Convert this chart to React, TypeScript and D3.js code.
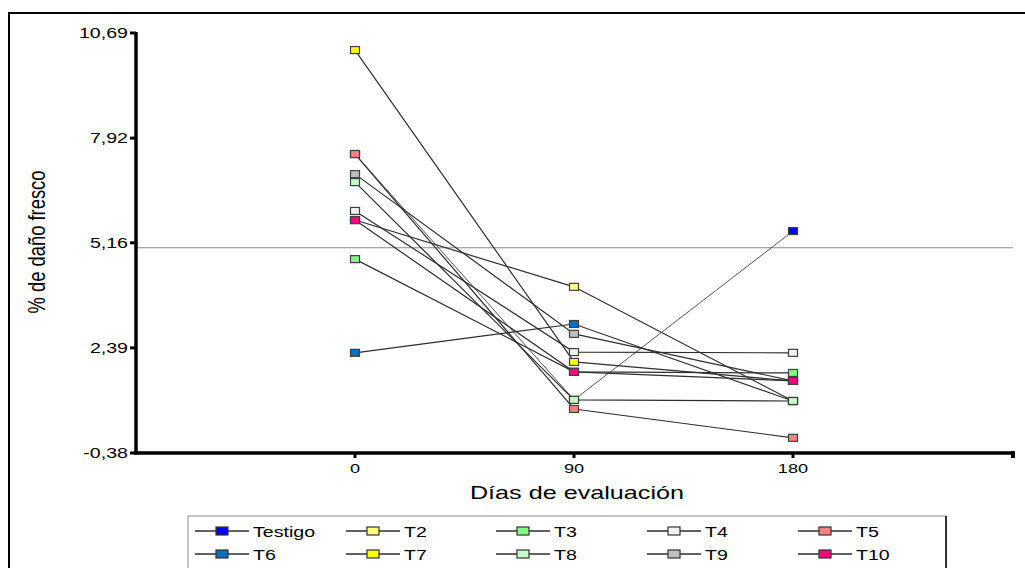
import React from "react";
import * as d3 from "d3";

const days = [0, 90, 180];
const seriesNames = ["Testigo", "T2", "T3", "T4", "T5", "T6", "T7", "T8", "T9", "T10"];
const seriesColors = ["#0000ff", "#ffff80", "#80ff80", "#f2f2f2", "#ff8080", "#0070c0", "#ffff00", "#c8ffc8", "#c0c0c0", "#ff0080"];
const testigo = [7.5, 1.02, 5.47];
const t2 = [5.76, 4.0, 0.99];
const t3 = [4.73, 1.76, 1.73];
const t4 = [6.0, 2.28, 2.26];
const t5 = [7.5, 0.78, 0.02];
const t6 = [2.26, 3.02, 0.99];
const t7 = [10.24, 2.02, 1.52];
const t8 = [6.76, 1.02, 0.99];
const t9 = [6.97, 2.76, 1.52];
const t10 = [5.76, 1.76, 1.52];
const seriesValues = [testigo, t2, t3, t4, t5, t6, t7, t8, t9, t10];
const yTicks = [-0.38, 2.39, 5.16, 7.92, 10.69];
const yTickLabels = ["-0,38", "2,39", "5,16", "7,92", "10,69"];
const xTickLabels = ["0", "90", "180"];
const refValue = 5.03;

const FONT = "'Liberation Sans', Arial, sans-serif";
const SX = 1.4;

function SText({ x, y, size, anchor = "start", sx = SX, children }: any) {
  return (
    <text
      transform={`translate(${x},${y}) scale(${sx},1)`}
      textAnchor={anchor}
      fontSize={size}
      fontFamily={FONT}
      fill="#000"
    >
      {children}
    </text>
  );
}

export default function App() {
  const x = d3.scaleLinear().domain([-90, 270]).range([136, 1012]);
  const y = d3.scaleLinear().domain([-0.38, 10.69]).range([453, 33]);
  const line = d3
    .line<number>()
    .x((_, i) => x(days[i]))
    .y((v) => y(v));

  const legendColX = [195, 346, 496, 647, 798];
  const legendRowY = [531, 554];

  return (
    <svg
      width={1025}
      height={568}
      style={{ position: "absolute", left: 0, top: 0, display: "block", background: "#fff" }}
    >
      {/* outer frame */}
      <rect x={9} y={13} width={1030} height={580} fill="#fff" stroke="#000" strokeWidth={2} />

      {/* reference line */}
      <line x1={137} x2={1013} y1={y(refValue)} y2={y(refValue)} stroke="#8a8a8a" strokeWidth={1.2} />

      {/* axes */}
      <line x1={136} x2={136} y1={y(10.69) - 1} y2={y(-0.38) + 1.5} stroke="#000" strokeWidth={3.5} />
      <line x1={134.5} x2={1014} y1={y(-0.38)} y2={y(-0.38)} stroke="#000" strokeWidth={3.5} />
      <rect x={1011} y={451} width={4} height={7} fill="#000" />

      {yTicks.map((v, i) => (
        <g key={"yt" + i}>
          <line x1={130} x2={136} y1={y(v)} y2={y(v)} stroke="#000" strokeWidth={3} />
          <SText x={128} y={y(v) + 5} size={14} anchor="end">
            {yTickLabels[i]}
          </SText>
        </g>
      ))}
      {days.map((d, i) => (
        <g key={"xt" + i}>
          <line x1={x(d)} x2={x(d)} y1={453} y2={458} stroke="#000" strokeWidth={3} />
          <SText x={x(d)} y={473} size={13} anchor="middle">
            {xTickLabels[i]}
          </SText>
        </g>
      ))}

      {/* axis titles */}
      <SText x={577} y={499} size={18} anchor="middle">
        Días de evaluación
      </SText>
      <text
        transform={`translate(45,242) scale(1.3,1) rotate(-90)`}
        textAnchor="middle"
        fontSize={18}
        fontFamily={FONT}
        textLength={143}
        lengthAdjust="spacingAndGlyphs"
        fill="#000"
      >
        % de daño fresco
      </text>

      {/* series lines */}
      {seriesValues.map((vals, i) => (
        <path
          key={"l" + i}
          d={line(vals) || ""}
          fill="none"
          stroke={i === 0 ? "#555" : "#2e2e2e"}
          strokeWidth={i === 0 ? 1 : 1.2}
        />
      ))}
      {/* markers */}
      {seriesValues.map((vals, i) =>
        vals.map((v, j) => (
          <rect
            key={"m" + i + "-" + j}
            x={x(days[j]) - 4.5}
            y={y(v) - 3.5}
            width={9}
            height={7}
            fill={seriesColors[i]}
            stroke="#404040"
            strokeWidth={1.2}
          />
        ))
      )}

      {/* legend */}
      <rect x={188} y={516} width={758} height={70} fill="#fff" stroke="#8a8a8a" strokeWidth={1} />
      <line x1={946} x2={946} y1={516} y2={570} stroke="#000" strokeWidth={1.5} />
      {seriesNames.map((name, i) => {
        const col = i % 5;
        const row = Math.floor(i / 5);
        const lx = legendColX[col];
        const ly = legendRowY[row];
        return (
          <g key={"lg" + i}>
            <line x1={lx} x2={lx + 54} y1={ly} y2={ly} stroke="#2e2e2e" strokeWidth={1.3} />
            <rect x={lx + 21} y={ly - 4} width={12} height={8} fill={seriesColors[i]} stroke="#333" strokeWidth={1.2} />
            <SText x={lx + 58} y={ly + 5.5} size={14}>
              {name}
            </SText>
          </g>
        );
      })}
    </svg>
  );
}
